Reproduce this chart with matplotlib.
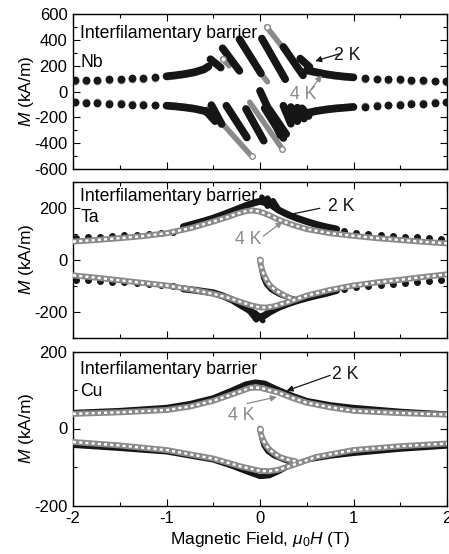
import matplotlib
matplotlib.use('Agg')
import matplotlib.pyplot as plt
from matplotlib.ticker import MultipleLocator

plt.rcParams['font.family'] = ['Liberation Sans', 'DejaVu Sans']
plt.rcParams['mathtext.fontset'] = 'custom'
plt.rcParams['mathtext.rm'] = 'Liberation Sans'
plt.rcParams['mathtext.it'] = 'Liberation Sans:italic'
plt.rcParams['axes.unicode_minus'] = False

BLACK = '#161616'
GRAY = '#8a8a8a'

# ---------------- Nb barrier ----------------
nb_dot_x_left = [-1.98, -1.86, -1.74, -1.62, -1.49, -1.37, -1.25, -1.12]
nb2_dot_up_left = [86, 88, 91, 94, 98, 102, 106, 110]
nb2_dot_lo_left = [-84, -87, -90, -93, -97, -101, -105, -108]
nb4_dot_up_left = [80, 82, 85, 88, 92, 96, 100, 104]
nb4_dot_lo_left = [-79, -82, -85, -88, -92, -96, -100, -103]
nb_dot_x_right = [1.12, 1.25, 1.37, 1.5, 1.62, 1.74, 1.87, 1.99]
nb2_dot_up_right = [104, 100, 96, 93, 90, 87, 84, 82]
nb2_dot_lo_right = [-118, -113, -108, -103, -98, -93, -88, -84]
nb4_dot_up_right = [98, 94, 90, 87, 84, 81, 78, 76]
nb4_dot_lo_right = [-112, -107, -102, -97, -92, -88, -84, -80]

nb2_up_left_x = [-1.0, -0.9, -0.8, -0.7, -0.6, -0.55]
nb2_up_left_m = [118, 126, 136, 150, 172, 195]
nb2_up_right_x = [0.5, 0.6, 0.7, 0.8, 0.9, 1.0]
nb2_up_right_m = [165, 150, 135, 124, 116, 110]
nb2_lo_left_x = [-1.0, -0.9, -0.8, -0.7, -0.6, -0.55]
nb2_lo_left_m = [-110, -116, -124, -134, -150, -165]
nb2_lo_right_x = [0.5, 0.6, 0.7, 0.8, 0.9, 1.0]
nb2_lo_right_m = [-168, -152, -141, -132, -126, -120]
nb4_up_left_m = [110, 118, 128, 142, 163, 185]
nb4_up_right_m = [155, 141, 127, 117, 109, 103]
nb4_lo_left_m = [-104, -110, -118, -128, -143, -158]
nb4_lo_right_m = [-160, -145, -134, -126, -120, -114]

# flux-jump pieces (x0, M0, x1, M1)
nb2_up_seg = [(-0.53, 250, -0.42, 185), (-0.40, 335, -0.22, 160),
              (-0.22, 405, 0.01, 140), (0.02, 410, 0.27, 95),
              (0.25, 345, 0.46, 125), (0.43, 255, 0.53, 190)]
nb2_lo_seg = [(-0.58, -150, -0.48, -230), (-0.52, -105, -0.41, -252),
              (-0.36, -110, -0.14, -356), (-0.15, -135, 0.04, -381),
              (0.0, 5, 0.22, -340), (0.05, -130, 0.25, -360),
              (0.10, -140, 0.28, -330), (0.25, -110, 0.33, -250),
              (0.33, -120, 0.40, -230), (0.40, -125, 0.47, -210),
              (0.45, -130, 0.52, -190)]
nb4_up_seg = [(-0.40, 250, -0.33, 200), (0.0, 150, 0.08, 75),
              (0.07, 500, 0.45, 150)]
nb4_lo_seg = [(-0.55, -130, -0.09, -500), (-0.11, -83, 0.24, -446)]

# ---------------- Ta barrier ----------------
ta_dot_x_left = [-1.97, -1.84, -1.71, -1.58, -1.45, -1.32, -1.19, -1.06, -0.93]
ta2_dot_up_left = [84, 86, 88, 91, 93, 95, 98, 101, 105]
ta2_dot_lo_left = [-78, -80, -82, -85, -88, -91, -94, -98, -103]
ta_dot_x_right = [0.9, 1.03, 1.16, 1.29, 1.42, 1.55, 1.68, 1.81, 1.94]
ta2_dot_up_right = [108, 102, 97, 94, 91, 88, 85, 82, 80]
ta2_dot_lo_right = [-113, -106, -101, -97, -93, -90, -86, -83, -80]

ta2_up_x = [-0.82, -0.7, -0.6, -0.5, -0.4, -0.3, -0.2, -0.1, 0.0, 0.1, 0.2,
            0.3, 0.4, 0.5, 0.6, 0.7, 0.82]
ta2_up_m = [126, 138, 148, 159, 172, 186, 200, 214, 224, 215, 190,
            172, 158, 146, 135, 126, 117]
ta2_lo_x = [-0.82, -0.7, -0.6, -0.5, -0.4, -0.3, -0.2, -0.1, -0.05, 0.0,
            0.05, 0.1, 0.2, 0.3, 0.4, 0.5, 0.6, 0.7, 0.82]
ta2_lo_m = [-113, -118, -123, -128, -140, -155, -177, -198, -212, -222,
            -215, -203, -184, -170, -158, -148, -139, -131, -119]
ta2_vir_x = [0.02, 0.04, 0.07, 0.12, 0.2, 0.3, 0.4]
ta2_vir_m = [-40, -70, -95, -115, -132, -146, -157]
ta2_up_seg = [(0.02, 240, 0.08, 205), (0.08, 236, 0.15, 200),
              (0.14, 226, 0.20, 192)]
ta2_lo_seg = [(-0.12, -195, -0.04, -232), (-0.05, -205, 0.03, -235)]

ta4_up_x = [-2.0, -1.75, -1.5, -1.25, -1.0, -0.75, -0.5, -0.35, -0.25, -0.15,
            -0.08, 0.0, 0.1, 0.2, 0.35, 0.5, 0.75, 1.0, 1.25, 1.5, 1.75, 2.0]
ta4_up_m = [69, 75, 82, 90, 101, 120, 146, 163, 176, 186,
            189, 184, 170, 153, 133, 117, 101, 91, 82, 75, 68, 62]
ta4_lo_x = [-2.0, -1.75, -1.5, -1.25, -1.0, -0.75, -0.5, -0.35, -0.2, -0.1,
            0.0, 0.07, 0.15, 0.3, 0.5, 0.75, 1.0, 1.25, 1.5, 1.75, 2.0]
ta4_lo_m = [-61, -70, -80, -90, -100, -114, -132, -146, -164, -176,
            -184, -185, -180, -164, -139, -117, -100, -88, -78, -67, -57]
ta4_vir_x = [0.0, 0.01, 0.036, 0.07, 0.107, 0.16, 0.21, 0.27, 0.33]
ta4_vir_m = [0, -25, -54, -80, -100, -117, -128, -140, -150]

# ---------------- Cu barrier ----------------
cu2_up_x = [-2.0, -1.5, -1.0, -0.75, -0.5, -0.3, -0.15, -0.05, 0.05, 0.2,
            0.35, 0.5, 0.75, 1.0, 1.5, 2.0]
cu2_up_m = [42, 47, 55, 65, 80, 100, 116, 121, 118, 101,
            86, 73, 62, 55, 45, 38]
cu2_lo_x = [-2.0, -1.5, -1.0, -0.5, -0.3, -0.15, 0.0, 0.1, 0.2, 0.3, 0.5,
            0.75, 1.0, 1.5, 2.0]
cu2_lo_m = [-44, -52, -61, -82, -98, -112, -125, -123, -112, -99, -82,
            -72, -65, -54, -46]
cu2_vir_x = [0.015, 0.04, 0.08, 0.15, 0.25, 0.35]
cu2_vir_m = [-25, -45, -60, -72, -82, -90]
cu4_up_x = [-2.0, -1.5, -1.0, -0.75, -0.5, -0.25, -0.1, 0.0, 0.2, 0.35,
            0.5, 0.75, 1.0, 1.5, 2.0]
cu4_up_m = [38, 42, 48, 57, 72, 93, 106, 106, 93, 79,
            67, 55, 46, 40, 36]
cu4_lo_x = [-2.0, -1.5, -1.0, -0.5, -0.2, 0.0, 0.1, 0.2, 0.4, 0.6, 1.0,
            1.5, 2.0]
cu4_lo_m = [-35, -44, -56, -78, -99, -110, -111, -107, -91, -74, -56,
            -46, -39]
cu4_vir_x = [0.0, 0.01, 0.036, 0.07, 0.107, 0.16, 0.21, 0.27, 0.32, 0.38]
cu4_vir_m = [0, -15, -31, -45, -56, -66, -74, -79, -82, -85]


def band(ax, x, m, color=BLACK, lw=5.5, z=3):
    ax.plot(x, m, color=color, lw=lw, solid_capstyle='round',
            solid_joinstyle='round', zorder=z)


def open_band(ax, x, m, lw=4.3, z=4):
    # densely packed open circles -> gray band with light centre
    ax.plot(x, m, color=GRAY, lw=lw, solid_capstyle='round', zorder=z)
    ax.plot(x, m, color='white', lw=lw * 0.4, dashes=(1.3, 1.3), zorder=z + 0.1)


def segs(ax, seglist, color=BLACK, lw=5.5, z=3):
    for x0, m0, x1, m1 in seglist:
        ax.plot([x0, x1], [m0, m1], color=color, lw=lw,
                solid_capstyle='round', zorder=z)


def arrow(ax, head, tail, color):
    ax.annotate('', xy=head, xytext=tail, zorder=10,
                arrowprops=dict(arrowstyle='-|>', color=color, lw=0.9,
                                mutation_scale=9, shrinkA=0, shrinkB=0))


def style(ax, ylim, major, bottom_labels=False):
    ax.set_xlim(-2, 2)
    ax.set_ylim(*ylim)
    ax.xaxis.set_major_locator(MultipleLocator(1))
    ax.xaxis.set_minor_locator(MultipleLocator(0.5))
    ax.yaxis.set_major_locator(MultipleLocator(major))
    ax.yaxis.set_minor_locator(MultipleLocator(100))
    ax.tick_params(which='both', direction='in', top=True, right=True,
                   width=0.8, labelsize=12, pad=4)
    ax.tick_params(which='major', length=5)
    ax.tick_params(which='minor', length=3)
    ax.tick_params(axis='x', labelbottom=bottom_labels)
    for s in ax.spines.values():
        s.set_linewidth(1.0)
    ax.set_ylabel('$M$ (kA/m)', fontsize=12.5, labelpad=2)


fig = plt.figure(figsize=(4.49, 5.54), dpi=100)
W, H = 449.0, 554.0
L, R = 73.0, 447.0
ax1 = fig.add_axes([L / W, 1 - 169 / H, (R - L) / W, 155 / H])
ax2 = fig.add_axes([L / W, 1 - 337.5 / H, (R - L) / W, 156 / H])
ax3 = fig.add_axes([L / W, 1 - 505.5 / H, (R - L) / W, 154 / H])

# ---- panel 1: Nb ----
ax = ax1
style(ax, (-600, 600), 200)
ax.set_yticks([-600, -400, -200, 0, 200, 400, 600])
mk = dict(ls='none', marker='o', ms=4.6)
ax.plot(nb_dot_x_left, nb4_dot_up_left, mfc='white', mec=GRAY, mew=1, zorder=2, **mk)
ax.plot(nb_dot_x_left, nb4_dot_lo_left, mfc='white', mec=GRAY, mew=1, zorder=2, **mk)
ax.plot(nb_dot_x_right, nb4_dot_up_right, mfc='white', mec=GRAY, mew=1, zorder=2, **mk)
ax.plot(nb_dot_x_right, nb4_dot_lo_right, mfc='white', mec=GRAY, mew=1, zorder=2, **mk)
ax.plot(nb_dot_x_left, nb2_dot_up_left, color=BLACK, zorder=3, **mk)
ax.plot(nb_dot_x_left, nb2_dot_lo_left, color=BLACK, zorder=3, **mk)
ax.plot(nb_dot_x_right, nb2_dot_up_right, color=BLACK, zorder=3, **mk)
ax.plot(nb_dot_x_right, nb2_dot_lo_right, color=BLACK, zorder=3, **mk)
band(ax, nb2_up_left_x, nb4_up_left_m, GRAY, 4.5, 2)
band(ax, nb2_up_right_x, nb4_up_right_m, GRAY, 4.5, 2)
band(ax, nb2_lo_left_x, nb4_lo_left_m, GRAY, 4.5, 2)
band(ax, nb2_lo_right_x, nb4_lo_right_m, GRAY, 4.5, 2)
segs(ax, nb4_up_seg, GRAY, 4.0, 2)
segs(ax, nb4_lo_seg, GRAY, 4.0, 2)
band(ax, nb2_up_left_x, nb2_up_left_m)
band(ax, nb2_up_right_x, nb2_up_right_m)
band(ax, nb2_lo_left_x, nb2_lo_left_m)
band(ax, nb2_lo_right_x, nb2_lo_right_m)
segs(ax, nb2_up_seg)
segs(ax, nb2_lo_seg)
# open-circle ends of the 4 K jump pieces
ax.plot([nb4_up_seg[0][0], nb4_up_seg[2][0], nb4_lo_seg[0][2], nb4_lo_seg[1][2]],
        [nb4_up_seg[0][1], nb4_up_seg[2][1], nb4_lo_seg[0][3], nb4_lo_seg[1][3]],
        ls='none', marker='o', ms=4, mfc='white', mec=GRAY, mew=1, zorder=4)
ax.text(0.02, 0.875, 'Interfilamentary barrier', transform=ax.transAxes,
        fontsize=12.7, va='center', ha='left', zorder=11)
ax.text(0.02, 0.69, 'Nb', transform=ax.transAxes, fontsize=12.7,
        va='center', ha='left', zorder=11)
ax.text(0.93, 280, '2 K', fontsize=12.7, va='center', ha='center', color=BLACK)
ax.text(0.46, -23, '4 K', fontsize=12.7, va='center', ha='center', color=GRAY)
arrow(ax, (0.59, 236), (0.86, 294), BLACK)
arrow(ax, (0.66, 125), (0.55, 21), GRAY)

# ---- panel 2: Ta ----
ax = ax2
style(ax, (-300, 300), 200)
mk_ta = dict(ls='none', marker='o', ms=4.0)
ax.plot(ta_dot_x_left, ta2_dot_up_left, color=BLACK, zorder=2, **mk_ta)
ax.plot(ta_dot_x_left, ta2_dot_lo_left, color=BLACK, zorder=2, **mk_ta)
ax.plot(ta_dot_x_right, ta2_dot_up_right, color=BLACK, zorder=2, **mk_ta)
ax.plot(ta_dot_x_right, ta2_dot_lo_right, color=BLACK, zorder=2, **mk_ta)
band(ax, ta2_up_x, ta2_up_m, lw=5)
band(ax, ta2_lo_x, ta2_lo_m, lw=5)
band(ax, ta2_vir_x, ta2_vir_m, lw=4)
segs(ax, ta2_up_seg, lw=4)
segs(ax, ta2_lo_seg, lw=4)
open_band(ax, ta4_up_x, ta4_up_m)
open_band(ax, ta4_lo_x, ta4_lo_m)
open_band(ax, ta4_vir_x, ta4_vir_m)
ax.plot([0.0], [0.0], ls='none', marker='o', ms=4, mfc='white', mec=GRAY,
        mew=1, zorder=6)
ax.text(0.02, 0.905, 'Interfilamentary barrier', transform=ax.transAxes,
        fontsize=12.7, va='center', ha='left', zorder=11)
ax.text(0.02, 0.77, 'Ta', transform=ax.transAxes, fontsize=12.7,
        va='center', ha='left', zorder=11)
ax.text(0.87, 205, '2 K', fontsize=12.7, va='center', ha='center', color=BLACK)
ax.text(-0.125, 75, '4 K', fontsize=12.7, va='center', ha='center', color=GRAY)
arrow(ax, (0.25, 168), (0.64, 197), BLACK)
arrow(ax, (0.24, 145), (0.036, 90), GRAY)

# ---- panel 3: Cu ----
ax = ax3
style(ax, (-200, 200), 200, bottom_labels=True)
band(ax, cu2_up_x, cu2_up_m, lw=3.6)
band(ax, cu2_lo_x, cu2_lo_m, lw=3.6)
band(ax, cu2_vir_x, cu2_vir_m, lw=3.2)
open_band(ax, cu4_up_x, cu4_up_m)
open_band(ax, cu4_lo_x, cu4_lo_m)
open_band(ax, cu4_vir_x, cu4_vir_m)
ax.plot([0.0], [0.0], ls='none', marker='o', ms=4, mfc='white', mec=GRAY,
        mew=1, zorder=6)
ax.text(0.02, 0.883, 'Interfilamentary barrier', transform=ax.transAxes,
        fontsize=12.7, va='center', ha='left', zorder=11)
ax.text(0.02, 0.739, 'Cu', transform=ax.transAxes, fontsize=12.7,
        va='center', ha='left', zorder=11)
ax.text(0.91, 141, '2 K', fontsize=12.7, va='center', ha='center', color=BLACK)
ax.text(-0.2, 35, '4 K', fontsize=12.7, va='center', ha='center', color=GRAY)
arrow(ax, (0.285, 98), (0.75, 138), BLACK)
arrow(ax, (0.18, 82), (-0.14, 65), GRAY)
ax.set_xlabel(r'Magnetic Field, $\mu_0H$ (T)', fontsize=12.5, labelpad=3)

for a in (ax1, ax2, ax3):
    a.yaxis.set_label_coords(-0.10, 0.5)

fig.savefig('out.png', dpi=100)
